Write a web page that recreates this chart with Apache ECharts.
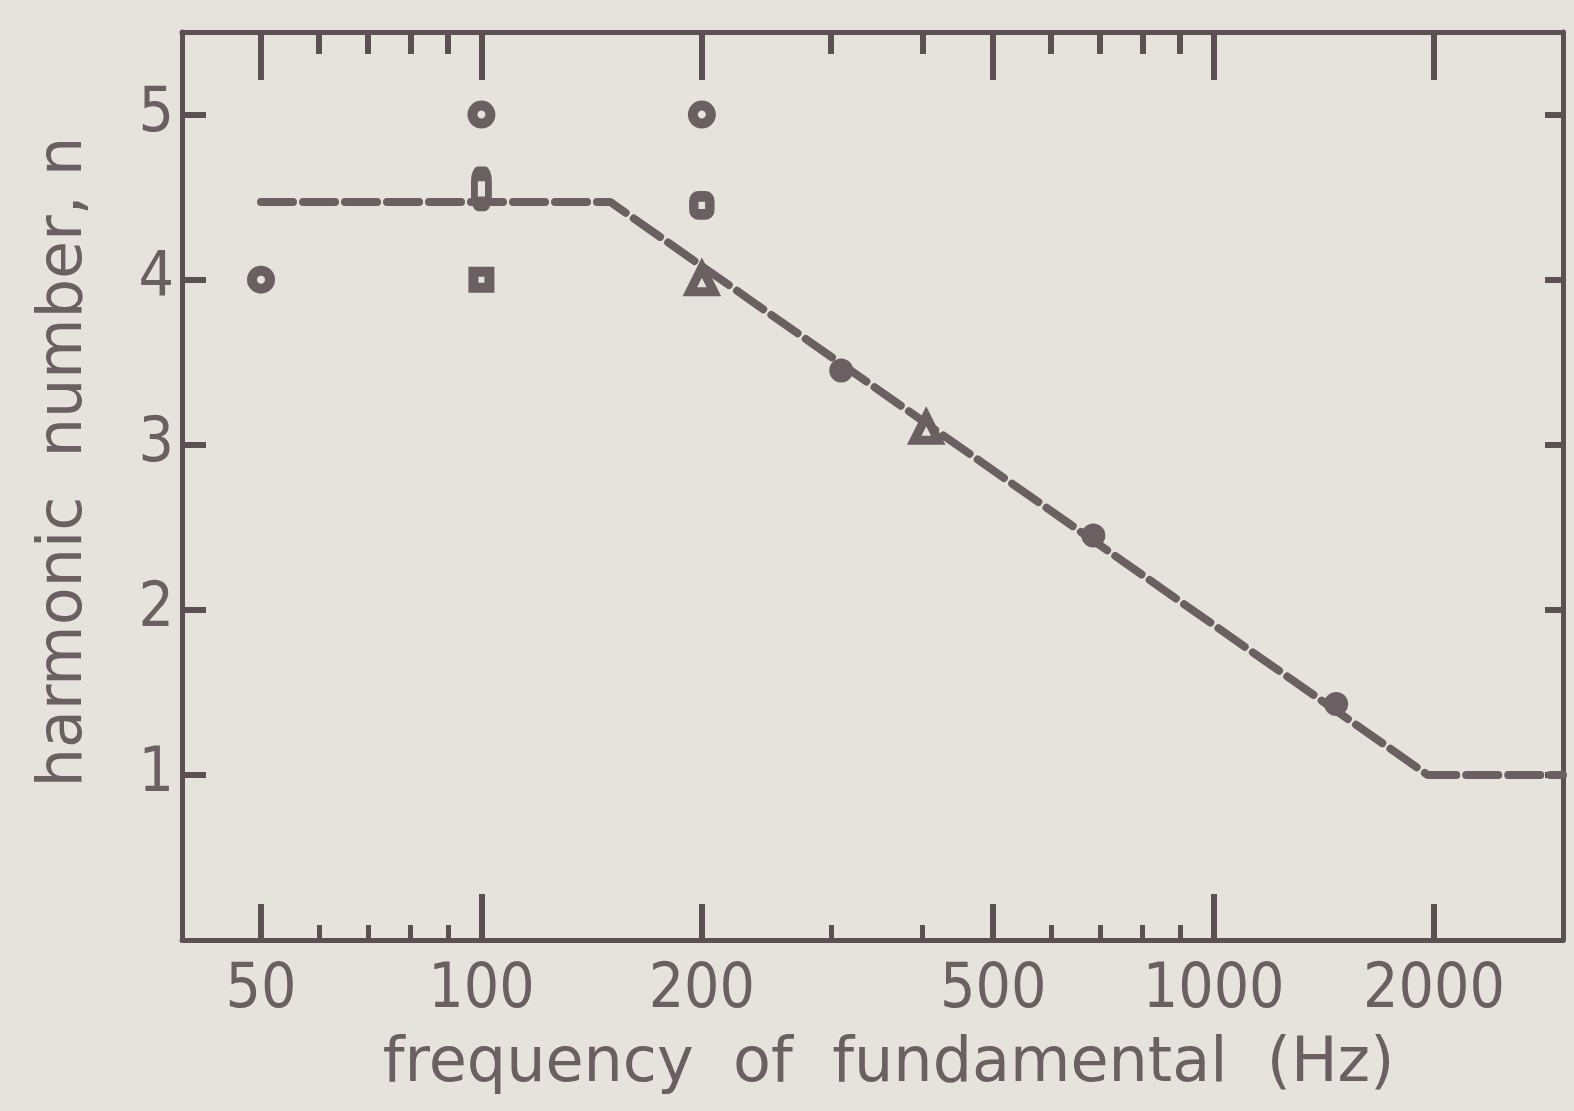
<!DOCTYPE html>
<html>
<head>
<meta charset="utf-8">
<script src="https://cdn.jsdelivr.net/npm/echarts@6/dist/echarts.min.js"></script>
<style>
  html, body { margin: 0; padding: 0; background: #e6e2dc; }
  #chart { width: 1574px; height: 1111px; }
</style>
</head>
<body>
<div id="chart"></div>
<script>
// frequency range of the axis (Hz), log scale
const freqMin = 39;
const freqMax = 3000;
const decadeTicks = [100, 1000];
const halfTicks = [50, 200, 500, 2000];
const minorTicks = [60, 70, 80, 90, 300, 400, 600, 700, 800, 900];
const yTicks = [1, 2, 3, 4, 5];

// points [Hz, harmonic number]
const openCircles = [[50, 4.0], [100, 5.0], [200, 5.0]];
const openSquares = [[100, 4.0]];
const tallSquares = [[100, 4.55]];
const roundSquares = [[200, 4.45]];
const triangles = [[200, 4.0], [405, 3.1]];
const filledDots = [[310, 3.45], [685, 2.45], [1470, 1.43]];
const dashedLine = [[50, 4.47], [150, 4.47], [1960, 1.0], [3000, 1.0]];

const ink = '#6a5f61';
const frame = '#5b5153';
const bg = '#e6e2dc';
const font = 'DejaVu Sans';

const lg = (arr) => arr.map(f => Math.log10(f));
const toXY = (pts) => pts.map(p => [Math.log10(p[0]), p[1]]);
const allMajor = [...halfTicks, ...decadeTicks].sort((a, b) => a - b);

const chart = echarts.init(document.getElementById('chart'));

const xBase = (pos, showLine) => ({
    type: 'value',
    position: pos,
    min: Math.log10(freqMin),
    max: Math.log10(freqMax),
    splitLine: { show: false },
    axisLine: { show: showLine, onZero: false, lineStyle: { color: frame, width: 5 } },
    axisLabel: { show: false }
});

const xAxes = [
    Object.assign(xBase('bottom', true), {
        axisTick: { inside: true, length: 46, customValues: lg(decadeTicks), lineStyle: { color: frame, width: 6 } },
        axisLabel: {
            show: true,
            customValues: lg(allMajor),
            formatter: v => String(Math.round(Math.pow(10, v))),
            color: ink,
            fontFamily: 'DejaVu Sans Condensed',
            fontSize: 62,
            margin: 20
        },
        name: 'frequency  of  fundamental  (Hz)',
        nameLocation: 'middle',
        nameGap: 94,
        nameTextStyle: { color: ink, fontFamily: font, fontSize: 62, padding: [0, 0, 0, 32] }
    }),
    Object.assign(xBase('bottom', false), {
        axisTick: { inside: true, length: 36, customValues: lg(halfTicks), lineStyle: { color: frame, width: 6 } }
    }),
    Object.assign(xBase('bottom', false), {
        axisTick: { inside: true, length: 15, customValues: lg(minorTicks), lineStyle: { color: frame, width: 5 } }
    }),
    Object.assign(xBase('top', true), {
        axisTick: { inside: true, length: 48, customValues: lg(allMajor), lineStyle: { color: frame, width: 6 } }
    }),
    Object.assign(xBase('top', false), {
        axisTick: { inside: true, length: 22, customValues: lg(minorTicks), lineStyle: { color: frame, width: 6 } }
    })
];

const yBase = (pos, len) => ({
    type: 'value',
    position: pos,
    min: 0,
    max: 5.5,
    splitLine: { show: false },
    axisLine: { show: true, onZero: false, lineStyle: { color: frame, width: 5 } },
    axisTick: { inside: true, length: len, customValues: yTicks, lineStyle: { color: frame, width: 6 } },
    axisLabel: { show: false }
});

const yAxes = [
    Object.assign(yBase('left', 24), {
        axisLabel: {
            show: true,
            customValues: yTicks,
            color: ink,
            fontFamily: 'DejaVu Sans Condensed',
            fontSize: 62,
            margin: 8
        },
        name: 'harmonic  number, n',
        nameLocation: 'middle',
        nameGap: 86,
        nameTextStyle: { color: ink, fontFamily: font, fontSize: 62, padding: [0, 0, 0, 48] }
    }),
    yBase('right', 18)
];

const markerSeries = (data, symbol, size, filled, bw) => ({
    type: 'scatter',
    data: toXY(data),
    symbol: symbol,
    symbolSize: size,
    z: 5,
    itemStyle: {
        color: filled ? ink : bg,
        borderColor: ink,
        borderWidth: bw,
        opacity: 1
    }
});

const option = {
    backgroundColor: bg,
    animation: false,
    grid: { left: 182, right: 11, top: 32, bottom: 171 },
    xAxis: xAxes,
    yAxis: yAxes,
    series: [
        {
            type: 'line',
            data: toXY(dashedLine),
            symbol: 'none',
            z: 3,
            lineStyle: { color: ink, width: 8, type: [32, 10], cap: 'round' }
        },
        markerSeries(openCircles, 'circle', 18, false, 10),
        markerSeries(openSquares, 'rect', 16, false, 10),
        markerSeries(tallSquares, 'roundRect', [14, 30], false, 10),
        markerSeries(roundSquares, 'roundRect', [16, 18], false, 10),
        markerSeries(triangles, 'triangle', 24, false, 9),
        markerSeries(filledDots, 'circle', 24, true, 0)
    ]
};

chart.setOption(option);
</script>
</body>
</html>
